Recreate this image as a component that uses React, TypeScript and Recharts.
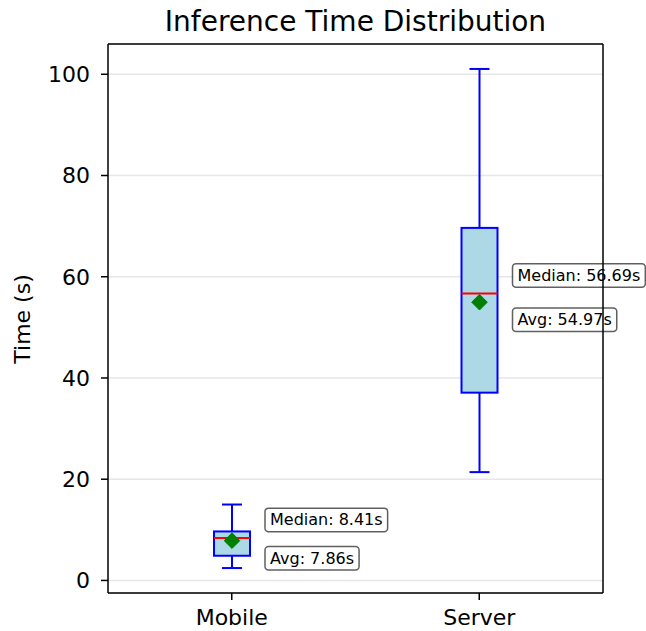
import { ComposedChart, Bar, XAxis, YAxis, CartesianGrid } from 'recharts';

const categories = ['Mobile', 'Server'];
const whiskerLow = [2.45, 21.4];
const q1 = [4.88, 37.1];
const medians = [8.41, 56.69];
const q3 = [9.68, 69.65];
const whiskerHigh = [15.0, 101.05];
const means = [7.86, 54.97];
const yTicks = [0, 20, 40, 60, 80, 100];

const data = categories.map((name, i) => ({
  name,
  low: whiskerLow[i],
  q1: q1[i],
  median: medians[i],
  q3: q3[i],
  high: whiskerHigh[i],
  mean: means[i],
}));

const FONT = '"DejaVu Sans", sans-serif';

let ctx: CanvasRenderingContext2D | null = null;
const textWidth = (text: string, size: number) => {
  if (!ctx) ctx = document.createElement('canvas').getContext('2d');
  if (!ctx) return text.length * size * 0.55;
  ctx.font = `${size}px "DejaVu Sans"`;
  return ctx.measureText(text).width;
};

const NoteBox = ({ x, cy, text }: { x: number; cy: number; text: string }) => {
  const w = textWidth(text, 16) + 10;
  return (
    <g>
      <rect
        x={x}
        y={cy - 11.75}
        width={w}
        height={23.5}
        rx={3.5}
        fill="#fff"
        fillOpacity={0.8}
        stroke="#444"
        strokeOpacity={0.85}
        strokeWidth={1.5}
      />
      <text x={x + 5} y={cy} dominantBaseline="central" fontSize={16} fill="#000" fontFamily={FONT}>
        {text}
      </text>
    </g>
  );
};

// one shape per category: whiskers, box, median, mean and the two notes
const BoxShape = (props: any) => {
  const { x, y, width, height, index } = props;
  const d = props.payload && props.payload.q1 !== undefined ? props.payload : data[index];
  const top = Math.min(y, y + height);
  const h = Math.abs(height);
  const py = (v: number) => top + (h * (d.high - v)) / (d.high - d.low);
  const cx = x + width / 2;
  const cap = 10;
  const m = 7.8;
  const my = py(d.mean);
  const medY = py(d.median);
  return (
    <g>
      <line x1={cx} x2={cx} y1={py(d.high)} y2={py(d.q3)} stroke="#0000ff" strokeWidth={2} />
      <line x1={cx} x2={cx} y1={py(d.q1)} y2={py(d.low)} stroke="#0000ff" strokeWidth={2} />
      <line x1={cx - cap} x2={cx + cap} y1={py(d.high)} y2={py(d.high)} stroke="#0000ff" strokeWidth={2} />
      <line x1={cx - cap} x2={cx + cap} y1={py(d.low)} y2={py(d.low)} stroke="#0000ff" strokeWidth={2} />
      <rect
        x={x}
        y={py(d.q3)}
        width={width}
        height={py(d.q1) - py(d.q3)}
        fill="#add8e6"
        stroke="#0000ff"
        strokeWidth={2}
      />
      <line x1={x} x2={x + width} y1={medY} y2={medY} stroke="#ff0000" strokeWidth={2} />
      <polygon
        points={`${cx},${my - m} ${cx + m},${my} ${cx},${my + m} ${cx - m},${my}`}
        fill="#008000"
        stroke="#008000"
      />
      <NoteBox x={cx + 33} cy={medY - 18} text={`Median: ${d.median.toFixed(2)}s`} />
      <NoteBox x={cx + 33} cy={my + 17.5} text={`Avg: ${d.mean.toFixed(2)}s`} />
    </g>
  );
};

const axisStroke = { stroke: '#000', strokeWidth: 1.5 };

export default function App() {
  return (
    <div
      style={{
        position: 'absolute',
        left: 0,
        top: 0,
        width: 646,
        height: 631,
        background: '#fff',
        fontFamily: FONT,
      }}
    >
      <ComposedChart
        width={646}
        height={631}
        data={data}
        margin={{ top: 43, right: 42, bottom: 0, left: 0 }}
      >
        <CartesianGrid vertical={false} stroke="#e6e6e6" strokeWidth={1.5} />
        <XAxis
          dataKey="name"
          height={38}
          tickSize={7}
          tickMargin={9}
          tick={{ fill: '#000', fontSize: 22, fontFamily: FONT }}
          tickLine={axisStroke}
          axisLine={axisStroke}
        />
        <XAxis
          xAxisId="top"
          dataKey="name"
          orientation="top"
          height={1}
          tick={false}
          tickLine={false}
          axisLine={axisStroke}
        />
        <YAxis
          type="number"
          width={108}
          domain={[-2.48, 105.98]}
          ticks={yTicks}
          tickSize={7}
          tickMargin={11}
          tick={{ fill: '#000', fontSize: 22, fontFamily: FONT }}
          tickLine={axisStroke}
          axisLine={axisStroke}
        />
        <YAxis
          yAxisId="right"
          orientation="right"
          type="number"
          width={1}
          domain={[-2.48, 105.98]}
          tick={false}
          tickLine={false}
          axisLine={axisStroke}
        />
        <Bar
          dataKey={(d: any) => [d.low, d.high]}
          barSize={36}
          shape={BoxShape}
          isAnimationActive={false}
        />
      </ComposedChart>
      <svg width={646} height={631} style={{ position: 'absolute', left: 0, top: 0, pointerEvents: 'none' }}>
        <text x={355.5} y={31} textAnchor="middle" fontSize={28} fill="#000" fontFamily={FONT}>
          Inference Time Distribution
        </text>
        <text
          x={30}
          y={319}
          transform="rotate(-90, 30, 319)"
          textAnchor="middle"
          fontSize={22}
          fill="#000"
          fontFamily={FONT}
        >
          Time (s)
        </text>
      </svg>
    </div>
  );
}
